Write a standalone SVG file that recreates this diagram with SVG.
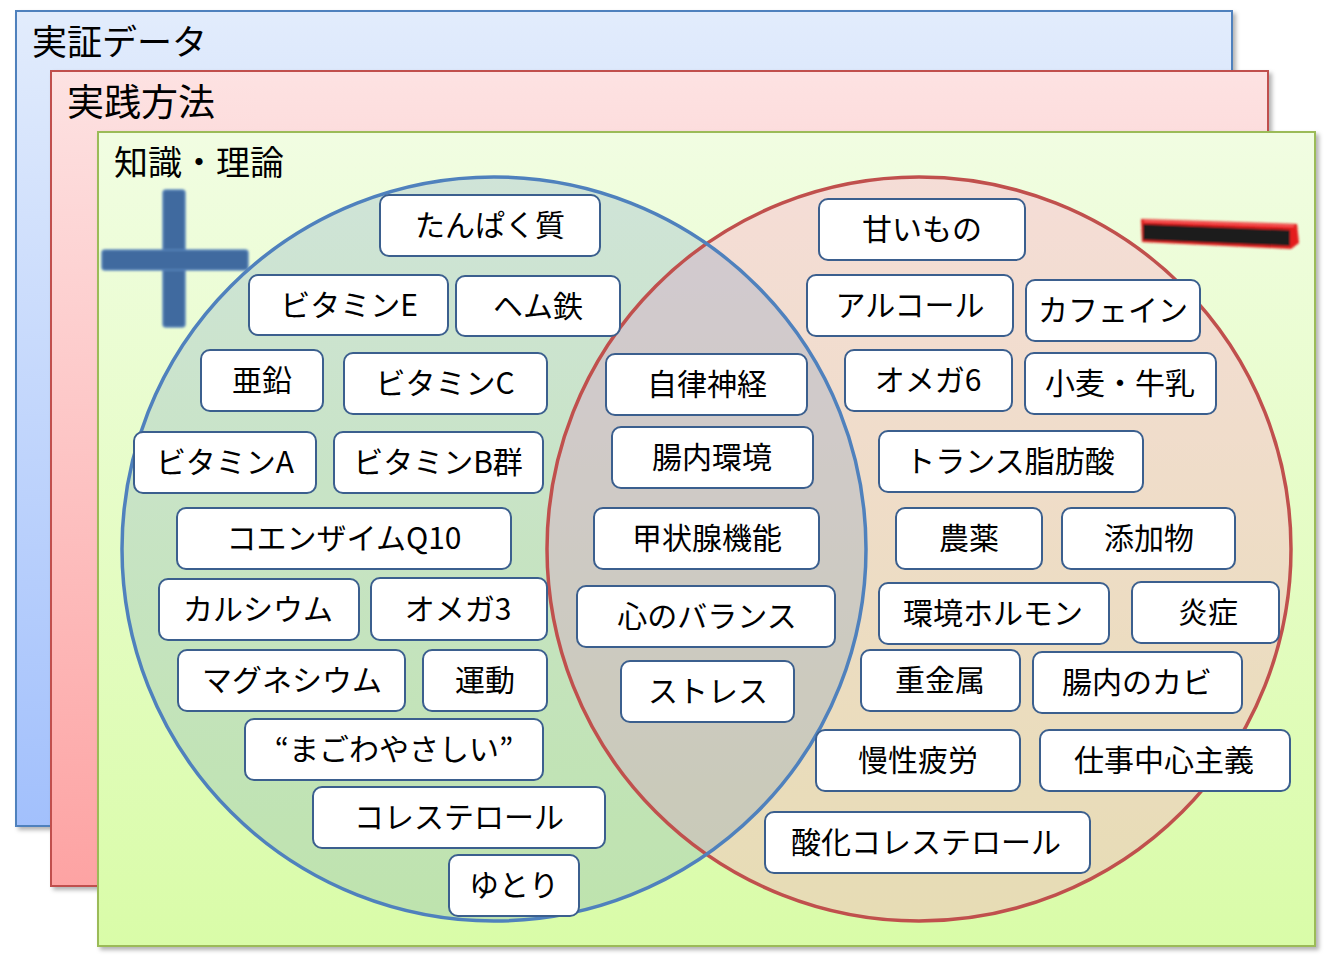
<svg xmlns="http://www.w3.org/2000/svg" width="1342" height="958" viewBox="0 0 1342 958">
<defs>
<linearGradient id="gBlue" x1="0" y1="0" x2="0" y2="1"><stop offset="0" stop-color="#e2ecfc"/><stop offset="1" stop-color="#a2c0fc"/></linearGradient>
<linearGradient id="gRed" x1="0" y1="0" x2="0" y2="1"><stop offset="0" stop-color="#fde2e2"/><stop offset="1" stop-color="#fda3a3"/></linearGradient>
<linearGradient id="gGreen" x1="0" y1="0" x2="0" y2="1"><stop offset="0" stop-color="#f1fde2"/><stop offset="1" stop-color="#d9fca8"/></linearGradient>
<filter id="shadow" x="-5%" y="-5%" width="110%" height="110%"><feDropShadow dx="3" dy="3" stdDeviation="2" flood-color="#000" flood-opacity="0.3"/></filter>
<filter id="soft" x="-10%" y="-10%" width="120%" height="120%"><feGaussianBlur stdDeviation="0.8"/></filter>
<style>
.panel{stroke-width:2}
.title{font-family:"Noto Sans CJK JP","Noto Sans",sans-serif;fill:#000}
.node rect{fill:#fff;stroke:#3b5f8e;stroke-width:2}
.node text{font-family:"Noto Sans CJK JP","Noto Sans",sans-serif;font-size:30px;fill:#000;text-anchor:middle}
</style>
</defs>

<g id="panel-evidence">
<rect class="panel" x="16" y="11" width="1216" height="815" fill="url(#gBlue)" stroke="#4f81bd" filter="url(#shadow)"/>
<text class="title" x="32" y="55" font-size="35">実証データ</text>
</g>
<g id="panel-practice">
<rect class="panel" x="51" y="71" width="1217" height="815" fill="url(#gRed)" stroke="#c0504d" filter="url(#shadow)"/>
<text class="title" x="67" y="116" font-size="37">実践方法</text>
</g>
<g id="panel-knowledge">
<rect class="panel" x="98" y="132" width="1217" height="814" fill="url(#gGreen)" stroke="#9bbb59" filter="url(#shadow)"/>
<text class="title" x="114" y="175" font-size="34">知識・理論</text>
</g>

<g id="venn">
<circle cx="919" cy="549" r="372" fill="#ffa0c8" fill-opacity="0.35"/>
<circle cx="494" cy="549" r="372" fill="#4f81bd" fill-opacity="0.2"/>
<circle cx="919" cy="549" r="372" fill="none" stroke="#c0504d" stroke-width="3.5"/>
<circle cx="494" cy="549" r="372" fill="none" stroke="#4f81bd" stroke-width="3.5"/>
</g>

<g id="plus-sign" filter="url(#soft)">
<rect x="163" y="190" width="22" height="137" rx="3" fill="#3f6a9f" stroke="#5b87bd" stroke-width="1.5"/>
<rect x="102" y="250" width="146" height="20" rx="3" fill="#3f6a9f" stroke="#5b87bd" stroke-width="1.5"/>
<rect x="163.75" y="251" width="20.5" height="18" fill="#3f6a9f"/>
</g>

<g id="minus-sign" filter="url(#soft)">
<polygon points="1141,219 1297,224 1299,243 1291,249 1142,242" fill="#e41c1c"/>
<polygon points="1143,224 1290,230 1290,246 1143,240" fill="#1b1b1b"/>
<line x1="1144" y1="221" x2="1294" y2="226" stroke="#ff6a6a" stroke-width="1.5"/>
</g>

<g id="nodes">
<g class="node" id="n-tanpaku"><rect x="380" y="195" width="220" height="61" rx="9"/><text x="490" y="236">たんぱく質</text></g>
<g class="node" id="n-vitE"><rect x="249" y="275" width="199" height="60" rx="9"/><text x="349" y="316">ビタミンE</text></g>
<g class="node" id="n-hem"><rect x="456" y="276" width="164" height="60" rx="9"/><text x="538" y="317">ヘム鉄</text></g>
<g class="node" id="n-aen"><rect x="201" y="350" width="122" height="61" rx="9"/><text x="262" y="391">亜鉛</text></g>
<g class="node" id="n-vitC"><rect x="344" y="353" width="203" height="61" rx="9"/><text x="445" y="394">ビタミンC</text></g>
<g class="node" id="n-vitA"><rect x="134" y="432" width="182" height="61" rx="9"/><text x="225" y="473">ビタミンA</text></g>
<g class="node" id="n-vitB"><rect x="334" y="432" width="209" height="61" rx="9"/><text x="438" y="473">ビタミンB群</text></g>
<g class="node" id="n-coq10"><rect x="177" y="508" width="334" height="61" rx="9"/><text x="344" y="549">コエンザイムQ10</text></g>
<g class="node" id="n-calcium"><rect x="159" y="579" width="200" height="61" rx="9"/><text x="258" y="620">カルシウム</text></g>
<g class="node" id="n-omega3"><rect x="371" y="578" width="176" height="62" rx="9"/><text x="458" y="620">オメガ3</text></g>
<g class="node" id="n-magnesium"><rect x="178" y="650" width="227" height="61" rx="9"/><text x="292" y="691">マグネシウム</text></g>
<g class="node" id="n-undou"><rect x="423" y="650" width="124" height="61" rx="9"/><text x="485" y="691">運動</text></g>
<g class="node" id="n-magowa"><rect x="245" y="719" width="298" height="61" rx="9"/><text x="394" y="760">“まごわやさしい”</text></g>
<g class="node" id="n-chol"><rect x="313" y="787" width="292" height="61" rx="9"/><text x="459" y="828">コレステロール</text></g>
<g class="node" id="n-yutori"><rect x="449" y="855" width="130" height="61" rx="9"/><text x="514" y="896">ゆとり</text></g>

<g class="node" id="n-jiritsu"><rect x="606" y="354" width="201" height="61" rx="9"/><text x="707" y="395">自律神経</text></g>
<g class="node" id="n-chounai"><rect x="612" y="427" width="201" height="61" rx="9"/><text x="712" y="468">腸内環境</text></g>
<g class="node" id="n-koujousen"><rect x="594" y="508" width="225" height="61" rx="9"/><text x="707" y="549">甲状腺機能</text></g>
<g class="node" id="n-kokoro"><rect x="577" y="586" width="258" height="61" rx="9"/><text x="707" y="627">心のバランス</text></g>
<g class="node" id="n-stress"><rect x="621" y="661" width="173" height="61" rx="9"/><text x="708" y="702">ストレス</text></g>

<g class="node" id="n-amai"><rect x="819" y="199" width="206" height="61" rx="9"/><text x="922" y="240">甘いもの</text></g>
<g class="node" id="n-alcohol"><rect x="807" y="275" width="206" height="61" rx="9"/><text x="910" y="316">アルコール</text></g>
<g class="node" id="n-caffeine"><rect x="1026" y="280" width="174" height="61" rx="9"/><text x="1113" y="321">カフェイン</text></g>
<g class="node" id="n-omega6"><rect x="845" y="350" width="167" height="61" rx="9"/><text x="928" y="391">オメガ6</text></g>
<g class="node" id="n-komugi"><rect x="1025" y="353" width="191" height="61" rx="9"/><text x="1120" y="394">小麦・牛乳</text></g>
<g class="node" id="n-trans"><rect x="879" y="431" width="264" height="61" rx="9"/><text x="1010" y="472">トランス脂肪酸</text></g>
<g class="node" id="n-nouyaku"><rect x="896" y="508" width="146" height="61" rx="9"/><text x="969" y="549">農薬</text></g>
<g class="node" id="n-tenka"><rect x="1062" y="508" width="173" height="61" rx="9"/><text x="1149" y="549">添加物</text></g>
<g class="node" id="n-kankyou"><rect x="879" y="583" width="230" height="61" rx="9"/><text x="993" y="624">環境ホルモン</text></g>
<g class="node" id="n-enshou"><rect x="1132" y="582" width="147" height="61" rx="9"/><text x="1208" y="623">炎症</text></g>
<g class="node" id="n-juukinzoku"><rect x="861" y="650" width="159" height="61" rx="9"/><text x="940" y="691">重金属</text></g>
<g class="node" id="n-kabi"><rect x="1033" y="652" width="209" height="61" rx="9"/><text x="1137" y="693">腸内のカビ</text></g>
<g class="node" id="n-hirou"><rect x="816" y="730" width="204" height="61" rx="9"/><text x="918" y="771">慢性疲労</text></g>
<g class="node" id="n-shigoto"><rect x="1040" y="730" width="250" height="61" rx="9"/><text x="1164" y="771">仕事中心主義</text></g>
<g class="node" id="n-sanka"><rect x="765" y="812" width="325" height="61" rx="9"/><text x="926" y="853">酸化コレステロール</text></g>
</g>

<g id="connectors"/>
</svg>
